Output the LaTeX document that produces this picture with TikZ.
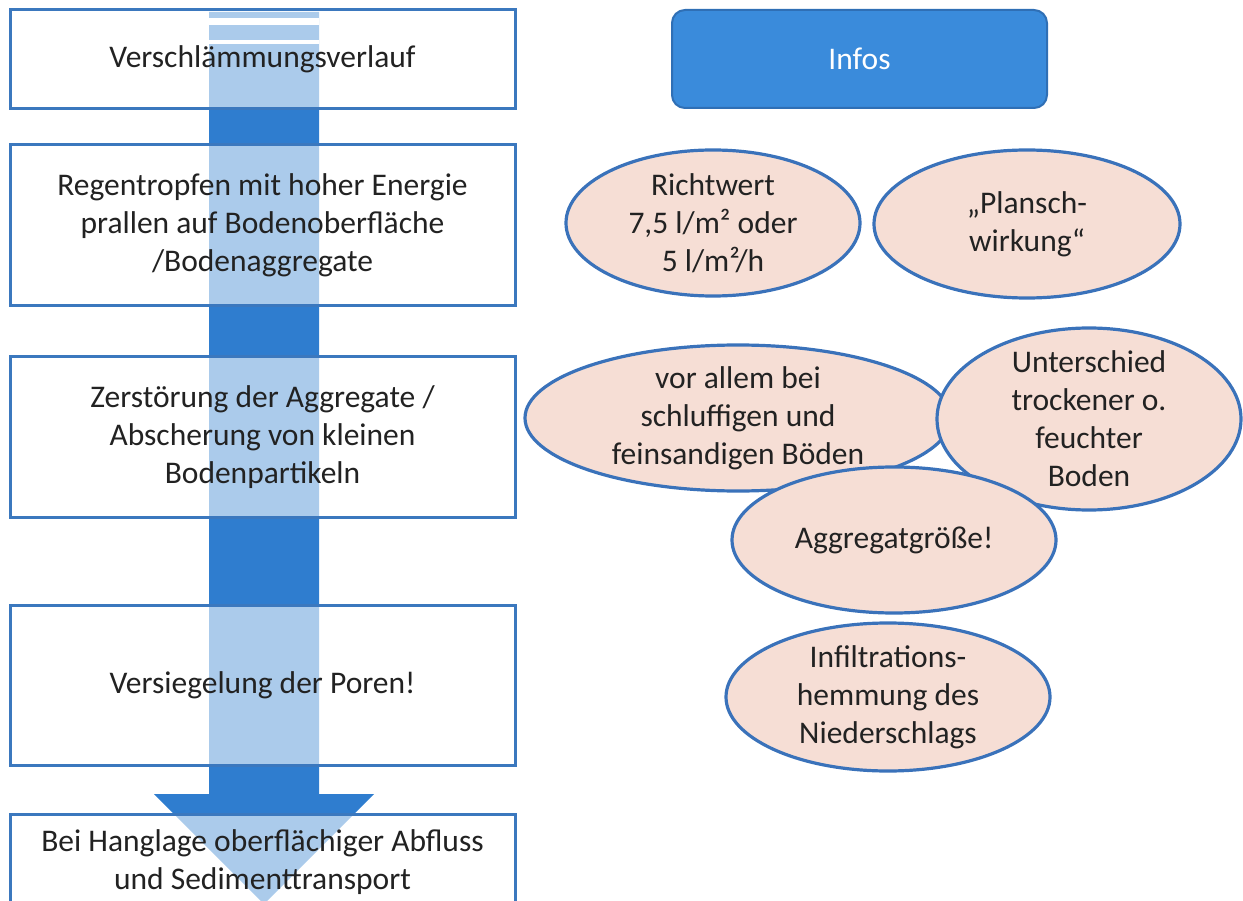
\documentclass[tikz,border=0pt]{standalone}
\usepackage{fontspec}
\setmainfont{Carlito}
\usetikzlibrary{shapes.geometric}
\definecolor{arrblue}{RGB}{47,125,207}
\definecolor{boxline}{RGB}{59,120,190}
\definecolor{infofill}{RGB}{58,139,219}
\definecolor{infoline}{RGB}{47,111,181}
\definecolor{ellfill}{RGB}{246,222,213}
\definecolor{ellline}{RGB}{58,114,186}
\definecolor{txt}{RGB}{34,34,34}
\newcommand{\txtfont}{\fontsize{31.5}{38}\selectfont}
\tikzset{
  every picture/.style={line width=3pt},
  stepbox/.style={draw=boxline,rectangle,fill=white,fill opacity=0.6,text opacity=1,minimum width=505pt,inner sep=0pt,align=center,font=\txtfont,text=txt},
  info/.style={draw=infoline,line width=2pt,fill=infofill,rounded corners=13pt,minimum width=375pt,minimum height=98pt,font=\txtfont,text=white},
  ell/.style={draw=ellline,line width=3.2pt,fill=ellfill,ellipse,inner sep=-30pt,align=center,font=\txtfont,text=txt},
}

\begin{document}
\begin{tikzpicture}[x=1pt,y=-1pt]
\useasboundingbox (0,0) rectangle (1243,901);
\clip (0,0) rectangle (1243,901);
% --- big arrow behind the steps ---
\fill[arrblue] (209,12) -- (319,12) -- (319,794) -- (374,794) -- (264,904)
  -- (154,794) -- (209,794) -- cycle;
\fill[white] (209,18) rectangle (319,25);
\fill[white] (209,40) rectangle (319,44);
% --- steps ---
\node[stepbox,minimum height=99pt] (s1) at (262.5,59.5) {Verschlämmungsverlauf};
\node[stepbox,minimum height=161pt] (s2) at (262.5,225.5) {Regentropfen mit hoher Energie\\prallen auf Bodenoberfläche\\/Bodenaggregate};
\node[stepbox,minimum height=160pt] (s3) at (262.5,437) {Zerstörung der Aggregate /\\Abscherung von kleinen\\Bodenpartikeln};
\node[stepbox,minimum height=160pt] (s4) at (262.5,685) {Versiegelung der Poren!};
\node[stepbox,minimum height=96pt] (s5) at (262.5,862) {Bei Hanglage oberflächiger Abfluss\\und Sedimenttransport};
% --- infos ---
\node[info] (infos) at (859.5,59) {Infos};
\node[ell,minimum width=294pt,minimum height=146pt] (richt) at (713,223) {Richtwert\\7,5 l/m² oder\\5 l/m²/h};
\node[ell,minimum width=306pt,minimum height=148pt] (plansch) at (1027,224) {„Plansch-\\wirkung“};
\node[ell,minimum width=426pt,minimum height=146pt] (schluff) at (738,418) {vor allem bei\\schluffigen und\\feinsandigen Böden};
\node[ell,minimum width=304pt,minimum height=182pt] (feucht) at (1089,419) {Unterschied\\trockener o.\\feuchter\\Boden};
\node[ell,minimum width=324pt,minimum height=146pt] (aggr) at (894,540) {Aggregatgröße!};
\node[ell,minimum width=324pt,minimum height=148pt] (infil) at (888,697) {Infiltrations-\\hemmung des\\Niederschlags};
\end{tikzpicture}
\end{document}
